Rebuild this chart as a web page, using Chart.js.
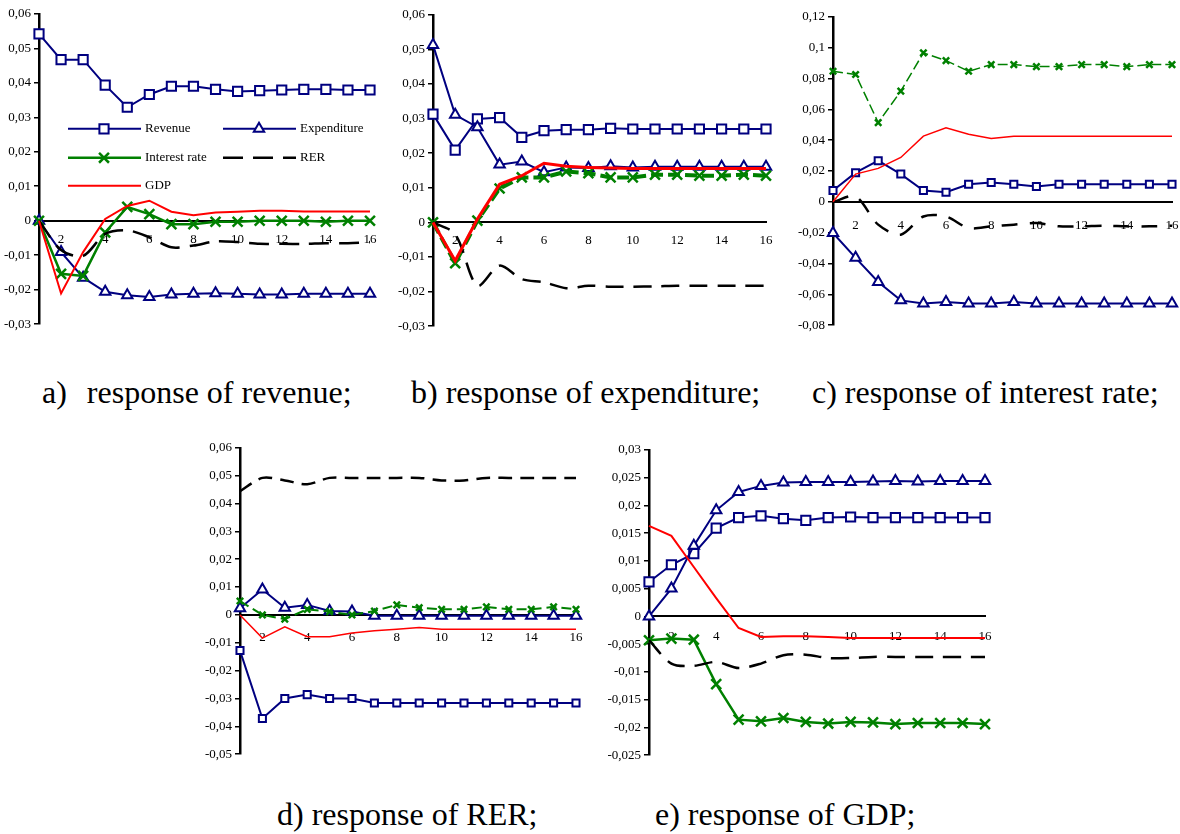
<!DOCTYPE html>
<html lang="en">
<head>
    <meta charset="UTF-8">
    <title>Impulse responses</title>
    <script src="https://cdn.jsdelivr.net/npm/chart.js"></script>
    <style>
        body {
            margin: 0;
            background: #fff;
        }
        #page {
            position: relative;
            width: 1180px;
            height: 834px;
            overflow: hidden;
            font-family: "Liberation Serif", "Times New Roman", serif;
        }
        canvas {
            position: absolute;
        }
        .caption {
            position: absolute;
            font-size: 32px;
            line-height: 32px;
            white-space: pre;
            color: #000;
        }
    </style>
</head>
<body>
<div id="page">
    <canvas id="chartA"></canvas>
    <canvas id="chartB"></canvas>
    <canvas id="chartC"></canvas>
    <canvas id="chartD"></canvas>
    <canvas id="chartE"></canvas>

    <div class="caption" style="left:42px;top:376px">a)<span style="margin-left:20px">response of revenue;</span></div>
    <div class="caption" style="left:411px;top:376px">b) response of expenditure;</div>
    <div class="caption" style="left:812px;top:376px">c) response of interest rate;</div>
    <div class="caption" style="left:277px;top:798px">d) response of RER;</div>
    <div class="caption" style="left:655px;top:798px">e) response of GDP;</div>
</div>

<script>
    const periods = ['1', '2', '3', '4', '5', '6', '7', '8', '9', '10', '11', '12', '13', '14', '15', '16'];

    // a) response of revenue
    const revA = [0.0542, 0.0467, 0.0467, 0.0393, 0.0329, 0.0366, 0.0390, 0.0390, 0.0381, 0.0375, 0.0377, 0.0379, 0.0381, 0.0381, 0.0379, 0.0379];
    const expA = [0, -0.0091, -0.0165, -0.0206, -0.0216, -0.0221, -0.0214, -0.0212, -0.0210, -0.0212, -0.0214, -0.0214, -0.0212, -0.0212, -0.0212, -0.0212];
    const intA = [0, -0.0154, -0.0160, -0.0034, 0.0040, 0.0019, -0.0010, -0.0010, -0.0003, -0.0003, 0, 0, 0, -0.0003, 0, 0];
    const rerA = [0, -0.0085, -0.0102, -0.0038, -0.0028, -0.0048, -0.0077, -0.0072, -0.0060, -0.0062, -0.0067, -0.0067, -0.0067, -0.0065, -0.0065, -0.0062];
    const gdpA = [0, -0.0211, -0.0091, 0.0005, 0.0043, 0.0058, 0.0026, 0.0016, 0.0024, 0.0026, 0.0029, 0.0029, 0.0027, 0.0027, 0.0027, 0.0027];

    // b) response of expenditure
    const revB = [0.0313, 0.0209, 0.0299, 0.0303, 0.0246, 0.0265, 0.0268, 0.0268, 0.0272, 0.0270, 0.0270, 0.0270, 0.0270, 0.0270, 0.0270, 0.0270];
    const expB = [0.0513, 0.0311, 0.0275, 0.0167, 0.0176, 0.0145, 0.0159, 0.0157, 0.0162, 0.0159, 0.0161, 0.0161, 0.0161, 0.0161, 0.0161, 0.0161];
    const intB = [0, -0.0118, 0.0005, 0.0098, 0.0130, 0.0130, 0.0147, 0.0142, 0.0130, 0.0130, 0.0138, 0.0138, 0.0135, 0.0135, 0.0138, 0.0135];
    const rerB = [0, -0.0034, -0.0183, -0.0125, -0.0164, -0.0173, -0.0190, -0.0183, -0.0186, -0.0186, -0.0185, -0.0183, -0.0183, -0.0183, -0.0183, -0.0183];
    const gdpB = [0, -0.0111, 0.0010, 0.0110, 0.0135, 0.0171, 0.0162, 0.0159, 0.0157, 0.0156, 0.0156, 0.0156, 0.0156, 0.0156, 0.0156, 0.0156];

    // c) response of interest rate
    const revC = [0.0073, 0.0189, 0.0267, 0.0180, 0.0073, 0.0062, 0.0114, 0.0125, 0.0114, 0.0099, 0.0114, 0.0114, 0.0114, 0.0114, 0.0114, 0.0114];
    const expC = [-0.0202, -0.0363, -0.0520, -0.0639, -0.0660, -0.0649, -0.0660, -0.0660, -0.0649, -0.0660, -0.0660, -0.0660, -0.0660, -0.0660, -0.0660, -0.0660];
    const intC = [0.0847, 0.0826, 0.0514, 0.0718, 0.0966, 0.0916, 0.0847, 0.0890, 0.0890, 0.0877, 0.0877, 0.0890, 0.0890, 0.0877, 0.0890, 0.0890];
    const rerC = [0, 0.0034, -0.0148, -0.0213, -0.0095, -0.0095, -0.0170, -0.0159, -0.0148, -0.0138, -0.0159, -0.0159, -0.0155, -0.0159, -0.0159, -0.0155];
    const gdpC = [0, 0.0180, 0.0217, 0.0288, 0.0426, 0.0480, 0.0439, 0.0411, 0.0426, 0.0426, 0.0426, 0.0426, 0.0426, 0.0426, 0.0426, 0.0426];

    // d) response of RER
    const revD = [-0.0128, -0.0372, -0.0300, -0.0286, -0.0300, -0.0300, -0.0316, -0.0316, -0.0316, -0.0316, -0.0316, -0.0316, -0.0316, -0.0316, -0.0316, -0.0316];
    const expD = [0.0024, 0.0091, 0.0026, 0.0036, 0.0014, 0.0012, -0.0003, -0.0003, -0.0003, -0.0003, -0.0003, -0.0003, -0.0003, -0.0003, -0.0003, -0.0003];
    const intD = [0.0050, 0, -0.0015, 0.0020, 0.0012, 0, 0.0014, 0.0036, 0.0026, 0.0020, 0.0020, 0.0029, 0.0020, 0.0020, 0.0029, 0.0020];
    const rerD = [0.0444, 0.0492, 0.0483, 0.0469, 0.0492, 0.0492, 0.0492, 0.0492, 0.0492, 0.0483, 0.0483, 0.0492, 0.0492, 0.0492, 0.0492, 0.0492];
    const gdpD = [0, -0.0083, -0.0043, -0.0078, -0.0078, -0.0065, -0.0057, -0.0051, -0.0045, -0.0051, -0.0051, -0.0051, -0.0051, -0.0051, -0.0051, -0.0051];

    // e) response of GDP
    const revE = [0.0062, 0.0093, 0.0113, 0.0159, 0.0178, 0.0181, 0.0176, 0.0173, 0.0178, 0.0179, 0.0178, 0.0178, 0.0178, 0.0178, 0.0178, 0.0178];
    const expE = [0, 0.0050, 0.0127, 0.0191, 0.0224, 0.0235, 0.0241, 0.0242, 0.0242, 0.0242, 0.0243, 0.0244, 0.0243, 0.0244, 0.0244, 0.0244];
    const intE = [-0.0043, -0.0040, -0.0042, -0.0122, -0.0186, -0.0189, -0.0183, -0.0190, -0.0193, -0.0190, -0.0191, -0.0194, -0.0192, -0.0192, -0.0192, -0.0194];
    const rerE = [-0.0043, -0.0085, -0.0089, -0.0082, -0.0093, -0.0085, -0.0070, -0.0069, -0.0075, -0.0075, -0.0073, -0.0073, -0.0073, -0.0073, -0.0073, -0.0073];
    const gdpE = [0.0163, 0.0145, 0.0089, 0.0033, -0.0021, -0.0037, -0.0036, -0.0036, -0.0037, -0.0039, -0.0039, -0.0039, -0.0039, -0.0039, -0.0039, -0.0039];

    const NAVY = '#000080';
    const GREEN = '#008000';
    const RED = '#ff0000';
    const tickFont = { family: '"Liberation Serif", "Times New Roman", serif', size: 13 };

    // space around each plot area inside its canvas
    const AX = 46, PT = 10, PR = 14, PB = 10;

    function fmt(v) {
        return String(parseFloat(Number(v).toFixed(4))).replace('.', ',');
    }

    function rev(data, r) {
        return { label: 'Revenue', data, borderColor: NAVY, borderWidth: 2, pointStyle: 'rect',
            pointRadius: r, pointBorderWidth: 2, pointBorderColor: NAVY, pointBackgroundColor: '#fff' };
    }
    function exp(data, r) {
        return { label: 'Expenditure', data, borderColor: NAVY, borderWidth: 2, pointStyle: 'triangle',
            pointRadius: r, pointBorderWidth: 2, pointBorderColor: NAVY, pointBackgroundColor: '#fff' };
    }
    function intr(data, r, w, dash) {
        return { label: 'Interest rate', data, borderColor: GREEN, borderWidth: w, borderDash: dash, pointStyle: 'crossRot',
            pointRadius: r, pointBorderWidth: 2.5, pointBorderColor: GREEN, pointBackgroundColor: GREEN };
    }
    function rer(data, dash) {
        return { label: 'RER', data, borderColor: '#000', borderWidth: 2.5, borderDash: dash, pointRadius: 0, tension: 0.3 };
    }
    function gdp(data, w) {
        return { label: 'GDP', data, borderColor: RED, borderWidth: w, pointRadius: 0 };
    }

    function drawMarker(ctx, style, x, y, r, lw, color) {
        ctx.lineWidth = lw;
        ctx.strokeStyle = color;
        ctx.fillStyle = '#fff';
        ctx.beginPath();
        if (style === 'rect') {
            const s = r * Math.SQRT1_2;
            ctx.rect(x - s, y - s, 2 * s, 2 * s);
            ctx.fill();
        } else if (style === 'triangle') {
            for (let k = 0; k < 3; k++) {
                const a = k * 2 * Math.PI / 3;
                const px = x + Math.sin(a) * r, py = y - Math.cos(a) * r;
                if (k === 0) ctx.moveTo(px, py); else ctx.lineTo(px, py);
            }
            ctx.closePath();
            ctx.fill();
        } else if (style === 'crossRot') {
            const s = r * Math.SQRT1_2;
            ctx.moveTo(x - s, y - s); ctx.lineTo(x + s, y + s);
            ctx.moveTo(x - s, y + s); ctx.lineTo(x + s, y - s);
        }
        ctx.stroke();
    }

    // legend drawn inside panel a, two columns
    const insideLegend = {
        id: 'insideLegend',
        afterDraw(chart) {
            const ctx = chart.ctx, area = chart.chartArea;
            const cols = [29, 184], rows = [115, 144, 172];
            chart.data.datasets.forEach((ds, i) => {
                const x0 = area.left + cols[i % 2];
                const y = area.top + rows[Math.floor(i / 2)];
                ctx.save();
                ctx.strokeStyle = ds.borderColor;
                ctx.lineWidth = ds.borderWidth;
                ctx.setLineDash(ds.borderDash || []);
                ctx.beginPath();
                ctx.moveTo(x0, y);
                ctx.lineTo(x0 + 73, y);
                ctx.stroke();
                ctx.setLineDash([]);
                if (ds.pointRadius > 0) {
                    drawMarker(ctx, ds.pointStyle, x0 + 36, y, ds.pointRadius, ds.pointBorderWidth, ds.borderColor);
                }
                ctx.fillStyle = '#000';
                ctx.font = '13px "Liberation Serif", "Times New Roman", serif';
                ctx.textBaseline = 'middle';
                ctx.fillText(ds.label, x0 + 77, y);
                ctx.restore();
            });
        }
    };

    function makeChart(id, box, yMin, yMax, yStep, xPad, datasets, plugins) {
        const cv = document.getElementById(id);
        const w = box.right - box.left + AX + PR;
        const h = box.bottom - box.top + PT + PB;
        cv.width = w;
        cv.height = h;
        cv.style.left = (box.left - AX) + 'px';
        cv.style.top = (box.top - PT) + 'px';
        cv.style.width = w + 'px';
        cv.style.height = h + 'px';
        datasets.forEach((ds, i) => {
            ds.clip = false;
            ds.fill = false;
            ds.order = datasets.length - i;
        });
        return new Chart(cv, {
            type: 'line',
            data: { labels: periods, datasets },
            options: {
                responsive: false,
                animation: false,
                devicePixelRatio: 1,
                layout: { padding: { left: 0, top: PT, right: PR, bottom: PB } },
                plugins: { legend: { display: false }, tooltip: { enabled: false } },
                scales: {
                    x: {
                        type: 'category',
                        position: { y: 0 },
                        offset: false,
                        grid: { display: false },
                        border: { display: true, color: '#000', width: 2 },
                        ticks: {
                            autoSkip: false,
                            maxRotation: 0,
                            padding: xPad,
                            color: '#000',
                            font: tickFont,
                            callback: (v, i) => (i % 2 === 1 ? periods[i] : '')
                        }
                    },
                    y: {
                        position: 'left',
                        min: yMin,
                        max: yMax,
                        afterFit: s => { s.width = AX; },
                        grid: { display: true, drawOnChartArea: false, drawTicks: true, tickLength: 5, color: '#000', lineWidth: 1.5 },
                        border: { display: true, color: '#000', width: 2.5 },
                        ticks: { stepSize: yStep, padding: 3, color: '#000', font: tickFont, callback: fmt }
                    }
                }
            },
            plugins: plugins || []
        });
    }

    makeChart('chartA', { left: 39, right: 370, top: 13, bottom: 325 }, -0.03, 0.06, 0.01, 3.5, [
        rev(revA, 6.5), exp(expA, 6), intr(intA, 7, 2.5, []), rer(rerA, [20, 10]), gdp(gdpA, 2)
    ], [insideLegend]);

    makeChart('chartB', { left: 433, right: 766, top: 14, bottom: 327 }, -0.03, 0.06, 0.01, 2.5, [
        rev(revB, 6.5), exp(expB, 6), intr(intB, 7, 4, [12, 5]), rer(rerB, [18, 10]), gdp(gdpB, 3)
    ]);

    makeChart('chartC', { left: 833, right: 1172, top: 16, bottom: 326 }, -0.08, 0.12, 0.02, 7.5, [
        rev(revC, 5), exp(expC, 6), intr(intC, 4.5, 1.5, [10, 4]), rer(rerC, [16, 12]), gdp(gdpC, 1.5)
    ]);

    makeChart('chartD', { left: 240, right: 576, top: 447, bottom: 755 }, -0.05, 0.06, 0.01, 6.5, [
        rev(revD, 5), exp(expD, 6), intr(intD, 4.5, 2, [10, 5]), rer(rerD, [14, 8]), gdp(gdpD, 1.5)
    ]);

    makeChart('chartE', { left: 649, right: 985, top: 449, bottom: 756 }, -0.025, 0.03, 0.005, 4.5, [
        rev(revE, 6.5), exp(expE, 6), intr(intE, 7, 2.5, []), rer(rerE, [18, 10]), gdp(gdpE, 2)
    ]);
</script>
</body>
</html>
